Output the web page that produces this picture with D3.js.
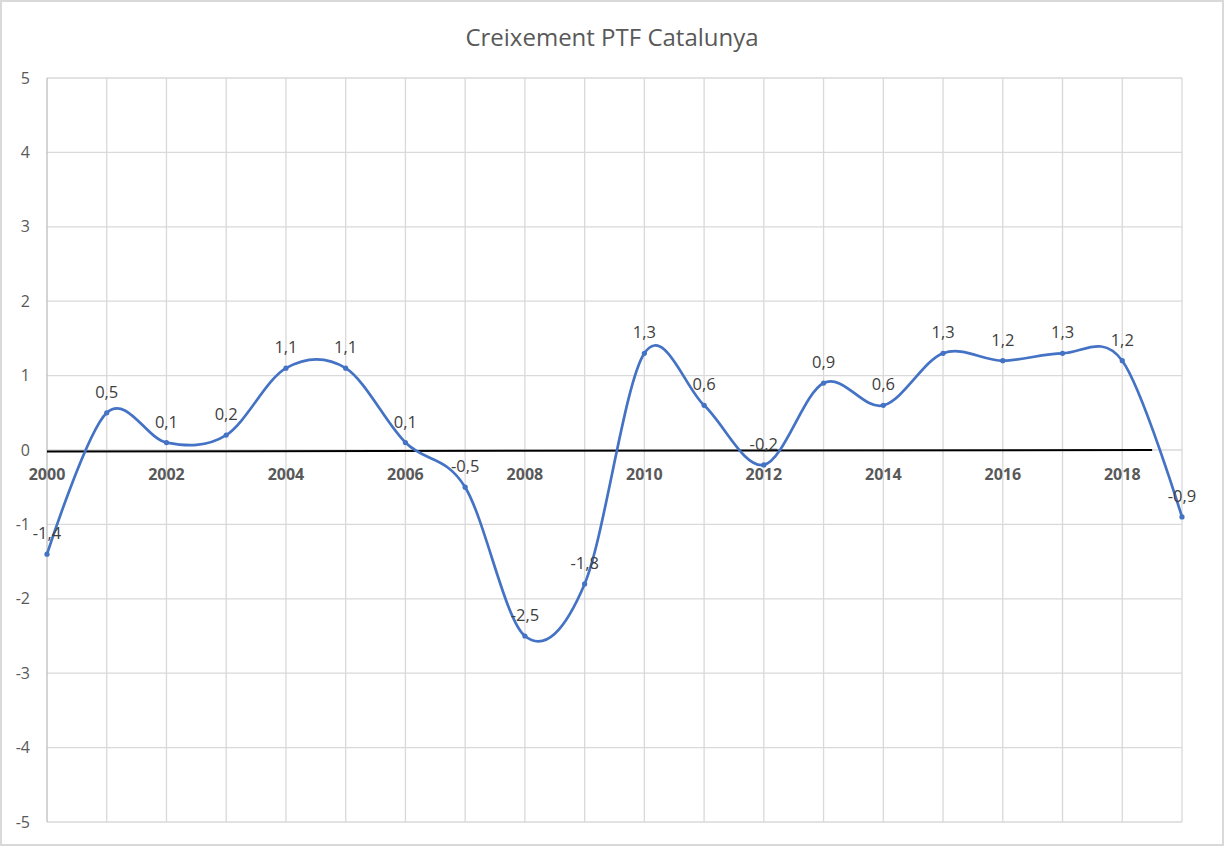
<!DOCTYPE html>
<html>
<head>
    <meta charset="utf-8">
    <title>Creixement PTF Catalunya</title>
    <script src="https://d3js.org/d3.v7.min.js"></script>
    <style>
        body { margin: 0; background: #fff; }
        svg text { font-family: "Segoe UI", "Open Sans", "Noto Sans", sans-serif; }
    </style>
</head>
<body>
    <svg id="chart" width="1224" height="846"></svg>
    <script>
        // data
        const years = [2000, 2001, 2002, 2003, 2004, 2005, 2006, 2007, 2008, 2009,
            2010, 2011, 2012, 2013, 2014, 2015, 2016, 2017, 2018, 2019];
        const ptf = [-1.4, 0.5, 0.1, 0.2, 1.1, 1.1, 0.1, -0.5, -2.5, -1.8,
            1.3, 0.6, -0.2, 0.9, 0.6, 1.3, 1.2, 1.3, 1.2, -0.9];
        const yTicks = [-5, -4, -3, -2, -1, 0, 1, 2, 3, 4, 5];
        const xLabels = [2000, 2002, 2004, 2006, 2008, 2010, 2012, 2014, 2016, 2018];
        // the black near-zero line (starts / ends)
        const baseX = [2000, 2018.5];
        const baseY = [-0.02, 0];

        const W = 1224, H = 846;
        const svg = d3.select("#chart");

        // outer frame
        svg.append("rect")
            .attr("x", 1).attr("y", 1)
            .attr("width", W - 2).attr("height", H - 2)
            .attr("fill", "#fff")
            .attr("stroke", "#d9d9d9")
            .attr("stroke-width", 2);

        const x = d3.scaleLinear().domain([2000, 2019]).range([47, 1182]);
        const y = d3.scaleLinear().domain([-5, 5]).range([822, 78]);

        const fmt = v => d3.format(".1f")(v).replace(".", ",").replace("−", "-");

        // gridlines
        svg.append("g")
            .selectAll("line.h")
            .data(yTicks)
            .join("line")
            .attr("x1", x(2000)).attr("x2", x(2019))
            .attr("y1", d => y(d)).attr("y2", d => y(d))
            .attr("stroke", "#d9d9d9")
            .attr("stroke-width", 1.3);

        svg.append("g")
            .selectAll("line.v")
            .data(years)
            .join("line")
            .attr("x1", d => x(d)).attr("x2", d => x(d))
            .attr("y1", y(5)).attr("y2", y(-5))
            .attr("stroke", (d, i) => i === 0 ? "#bfbfbf" : "#d9d9d9")
            .attr("stroke-width", 1.3);

        // y labels
        svg.append("g")
            .selectAll("text")
            .data(yTicks)
            .join("text")
            .attr("x", 30)
            .attr("y", d => y(d))
            .attr("dy", "0.35em")
            .attr("text-anchor", "end")
            .attr("font-size", 16)
            .attr("fill", "#595959")
            .text(d => String(d));

        // x labels (sit just under the zero line)
        svg.append("g")
            .selectAll("text")
            .data(xLabels)
            .join("text")
            .attr("x", d => x(d))
            .attr("y", y(0) + 30)
            .attr("text-anchor", "middle")
            .attr("font-size", 16)
            .attr("font-weight", "bold")
            .attr("fill", "#595959")
            .text(d => d);

        // black zero line
        svg.append("line")
            .attr("x1", x(baseX[0])).attr("x2", x(baseX[1]))
            .attr("y1", y(baseY[0])).attr("y2", y(baseY[1]))
            .attr("stroke", "#000")
            .attr("stroke-width", 2);

        // smoothed series
        const pts = years.map((yr, i) => [yr, ptf[i]]);
        const line = d3.line()
            .x(d => x(d[0]))
            .y(d => y(d[1]))
            .curve(d3.curveCardinal.tension(0));

        svg.append("path")
            .datum(pts)
            .attr("d", line)
            .attr("fill", "none")
            .attr("stroke", "#4472c4")
            .attr("stroke-width", 2.7)
            .attr("stroke-linecap", "round");

        svg.append("g")
            .selectAll("circle")
            .data(pts)
            .join("circle")
            .attr("cx", d => x(d[0]))
            .attr("cy", d => y(d[1]))
            .attr("r", 2.6)
            .attr("fill", "#4472c4");

        // data labels
        svg.append("g")
            .selectAll("text")
            .data(pts)
            .join("text")
            .attr("x", d => x(d[0]))
            .attr("y", d => y(d[1]) - 15)
            .attr("text-anchor", "middle")
            .attr("font-size", 16.5)
            .attr("fill", "#404040")
            .text(d => fmt(d[1]));

        // title
        svg.append("text")
            .attr("x", 612)
            .attr("y", 46)
            .attr("text-anchor", "middle")
            .attr("font-size", 24)
            .attr("fill", "#595959")
            .text("Creixement PTF Catalunya");
    </script>
</body>
</html>
